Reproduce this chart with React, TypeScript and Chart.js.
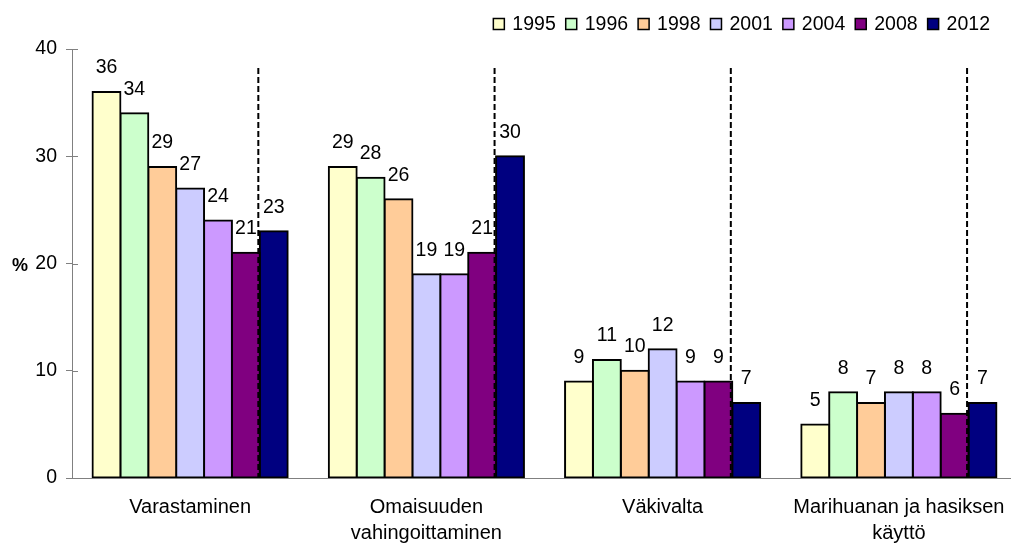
import React, { useEffect, useRef } from "react";
import { Chart, registerables } from "chart.js";

Chart.register(...registerables);

const categories: (string | string[])[] = [
  "Varastaminen",
  ["Omaisuuden", "vahingoittaminen"],
  "Väkivalta",
  ["Marihuanan ja hasiksen", "käyttö"],
];
const years = ["1995", "1996", "1998", "2001", "2004", "2008", "2012"];
const v1995 = [36, 29, 9, 5];
const v1996 = [34, 28, 11, 8];
const v1998 = [29, 26, 10, 7];
const v2001 = [27, 19, 12, 8];
const v2004 = [24, 19, 9, 8];
const v2008 = [21, 21, 9, 6];
const v2012 = [23, 30, 7, 7];
const seriesValues = [v1995, v1996, v1998, v2001, v2004, v2008, v2012];
const colors = ["#FFFFCC", "#CCFFCC", "#FFCC99", "#CCCCFF", "#CC99FF", "#800080", "#000080"];
const yTicks = [0, 10, 20, 30, 40];
const yUnit = "%";

const FONT = "'Liberation Sans', Arial, sans-serif";

const overlay = {
  id: "overlay",
  afterDatasetsDraw(chart: any) {
    const ctx = chart.ctx;
    const area = chart.chartArea;
    ctx.save();
    // dashed separators between 2008 and 2012
    const m5 = chart.getDatasetMeta(5);
    const m6 = chart.getDatasetMeta(6);
    ctx.strokeStyle = "#000";
    ctx.lineWidth = 2;
    ctx.setLineDash([6, 3]);
    m5.data.forEach((b: any, i: number) => {
      const b6 = m6.data[i];
      const x = (b.x + b.width / 2 + (b6.x - b6.width / 2)) / 2 - 1.5;
      ctx.beginPath();
      ctx.moveTo(x, area.top + 19);
      ctx.lineTo(x, area.bottom);
      ctx.stroke();
    });
    ctx.setLineDash([]);
    // value labels
    ctx.fillStyle = "#000";
    ctx.font = `19.5px ${FONT}`;
    ctx.textAlign = "center";
    ctx.textBaseline = "middle";
    chart.data.datasets.forEach((ds: any, di: number) => {
      const meta = chart.getDatasetMeta(di);
      meta.data.forEach((b: any, i: number) => {
        ctx.fillText(String(ds.data[i]), b.x, b.y - 24);
      });
    });
    ctx.restore();
  },
  afterDraw(chart: any) {
    const ctx = chart.ctx;
    const area = chart.chartArea;
    const ys = chart.scales.y;
    ctx.save();
    // inner half of cross tick marks
    ctx.strokeStyle = "#808080";
    ctx.lineWidth = 1;
    ys.ticks.forEach((t: any) => {
      const y = Math.round(ys.getPixelForValue(t.value)) + 0.5;
      ctx.beginPath();
      ctx.moveTo(area.left, y);
      ctx.lineTo(area.left + 6, y);
      ctx.stroke();
    });
    // x axis extension to the left
    const yb = Math.round(area.bottom) + 0.5;
    ctx.beginPath();
    ctx.moveTo(area.left - 6, yb);
    ctx.lineTo(area.left, yb);
    ctx.stroke();
    // unit label
    ctx.fillStyle = "#000";
    ctx.font = `bold 18px ${FONT}`;
    ctx.textAlign = "left";
    ctx.textBaseline = "middle";
    ctx.fillText(yUnit, 12, ys.getPixelForValue(20) + 3);
    // legend
    ctx.font = `19.5px ${FONT}`;
    const box = 11;
    const gap = 8;
    const space = 10;
    const widths = years.map((y) => ctx.measureText(y).width);
    const total = widths.reduce((a, w) => a + box + gap + w + space, 0) - space;
    let x = area.right - 27 - total;
    const cy = 24;
    years.forEach((y, i) => {
      ctx.fillStyle = colors[i];
      ctx.fillRect(x, cy - box / 2, box, box);
      ctx.strokeStyle = "#000";
      ctx.lineWidth = 1.5;
      ctx.strokeRect(x, cy - box / 2, box, box);
      ctx.fillStyle = "#000";
      ctx.textAlign = "left";
      ctx.textBaseline = "middle";
      ctx.fillText(y, x + box + gap, cy + 1);
      x += box + gap + widths[i] + space;
    });
    ctx.restore();
  },
};

export default function App() {
  const ref = useRef<HTMLCanvasElement | null>(null);
  useEffect(() => {
    if (!ref.current) return;
    Chart.defaults.font.family = FONT;
    const chart = new Chart(ref.current, {
      type: "bar",
      data: {
        labels: categories,
        datasets: years.map((y, i) => ({
          label: y,
          data: seriesValues[i],
          backgroundColor: colors[i],
          borderColor: "#000",
          borderWidth: 2,
          borderSkipped: false,
          inflateAmount: 1,
          barPercentage: 1,
          categoryPercentage: 0.826,
        })),
      },
      options: {
        animation: false,
        responsive: false,
        maintainAspectRatio: false,
        devicePixelRatio: 1,
        layout: { padding: { top: 49, left: 0, right: 0, bottom: 0 } },
        plugins: { legend: { display: false }, tooltip: { enabled: false } },
        scales: {
          x: {
            grid: {
              display: true,
              drawOnChartArea: false,
              drawTicks: true,
              tickLength: 16,
              color: "rgba(0,0,0,0)",
            },
            border: { display: true, color: "#808080", width: 1 },
            ticks: {
              color: "#000",
              font: { size: 20, lineHeight: "26px" as any },
              padding: 0,
              autoSkip: false,
              maxRotation: 0,
            },
            afterFit: (s: any) => {
              s.height = 66;
            },
          },
          y: {
            min: 0,
            max: 40,
            afterBuildTicks: (s: any) => {
              s.ticks = yTicks.map((v) => ({ value: v }));
            },
            grid: { drawOnChartArea: false, drawTicks: true, tickLength: 6, color: "#808080" },
            border: { display: true, color: "#808080", width: 1 },
            ticks: { color: "#000", font: { size: 19.5 }, padding: 9 },
            afterFit: (s: any) => {
              s.width = 72;
            },
          },
        },
      },
      plugins: [overlay],
    });
    return () => chart.destroy();
  }, []);
  return (
    <div style={{ position: "absolute", left: 0, top: 0, width: 1011, height: 544, overflow: "hidden", background: "#fff" }}>
      <canvas ref={ref} width={1017} height={544} style={{ display: "block", width: 1017, height: 544 }} />
    </div>
  );
}
